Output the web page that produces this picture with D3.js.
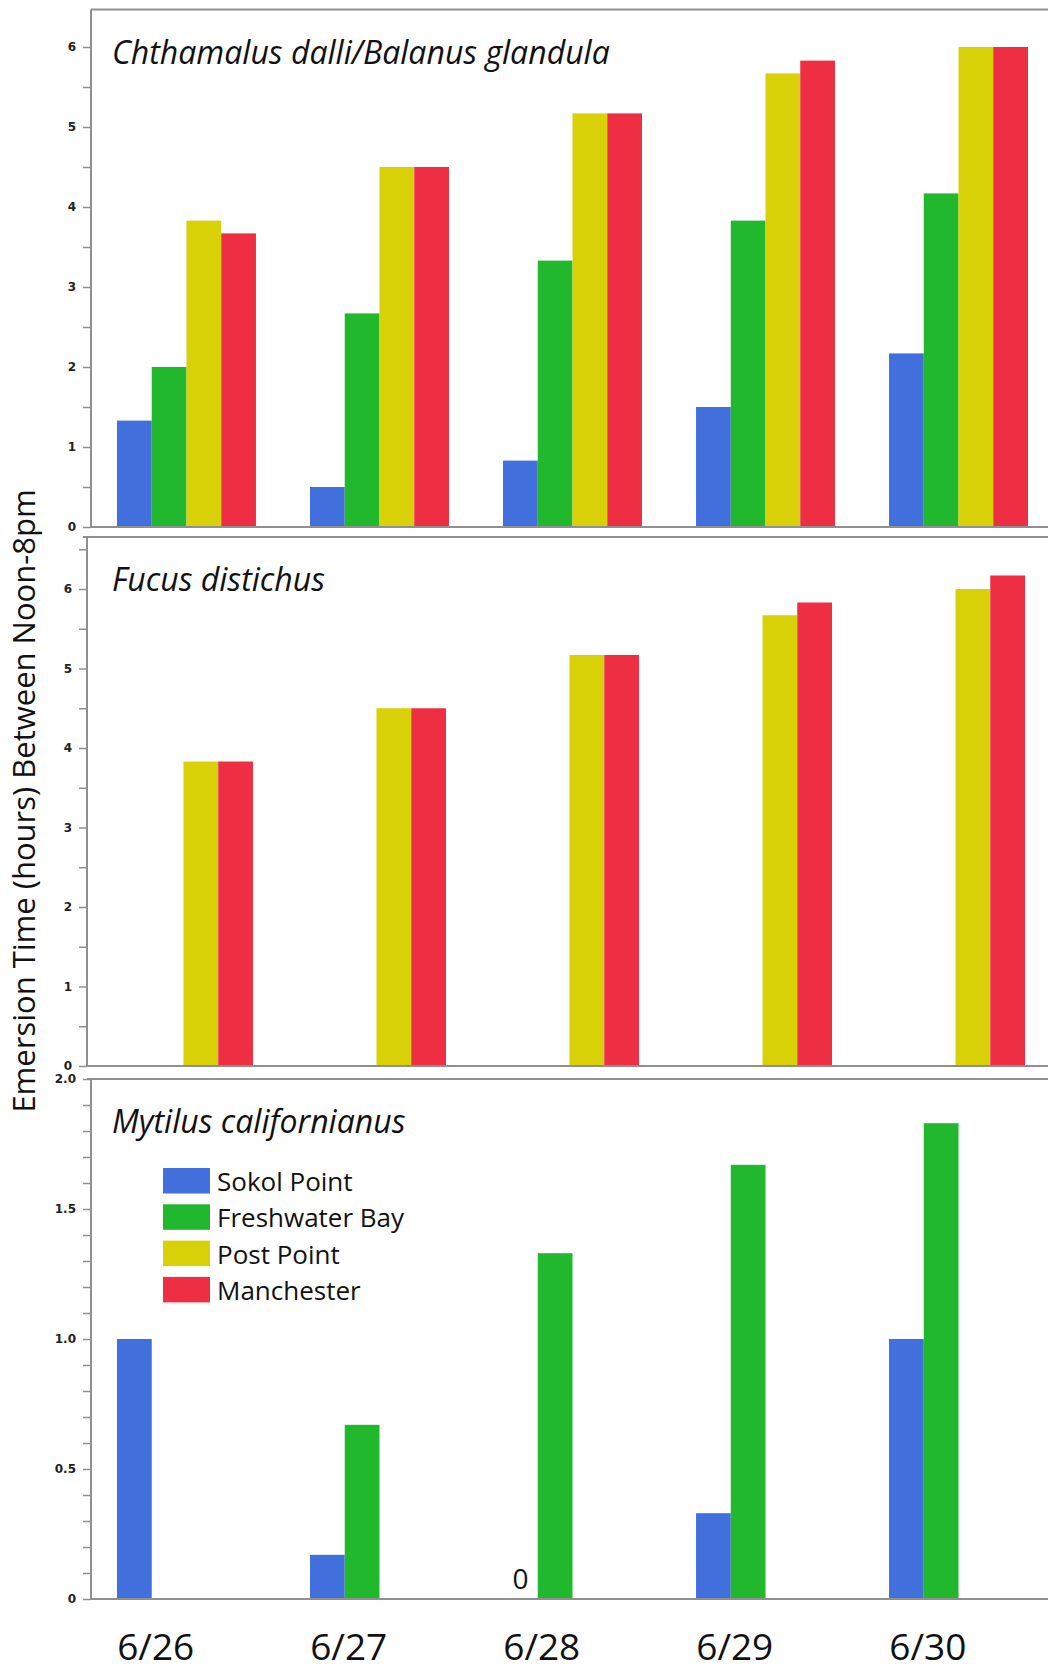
<!DOCTYPE html>
<html>
<head>
<meta charset="utf-8">
<script src="https://cdn.jsdelivr.net/npm/d3@7"></script>
<style>
  body { margin: 0; background: #fff; }
  svg { display: block; }
</style>
</head>
<body>
<div id="chart"></div>
<script>
// data (hours of emersion between noon and 8pm)
const dates = ["6/26", "6/27", "6/28", "6/29", "6/30"];
const sites = ["Sokol Point", "Freshwater Bay", "Post Point", "Manchester"];
const siteColors = ["#416fdb", "#21b82d", "#d9d107", "#ee2f43"];

// Chthamalus dalli / Balanus glandula
const barnSokol = [1.33, 0.5, 0.83, 1.5, 2.17];
const barnFresh = [2.0, 2.67, 3.33, 3.83, 4.17];
const barnPost = [3.83, 4.5, 5.17, 5.67, 6.0];
const barnManch = [3.67, 4.5, 5.17, 5.83, 6.0];

// Fucus distichus (only Post Point and Manchester)
const fucusPost = [3.83, 4.5, 5.17, 5.67, 6.0];
const fucusManch = [3.83, 4.5, 5.17, 5.83, 6.17];

// Mytilus californianus (only Sokol Point and Freshwater Bay)
const mytSokol = [1.0, 0.17, 0, 0.33, 1.0];
const mytFresh = [0, 0.67, 1.33, 1.67, 1.83];

const W = 1048, H = 1672;
const svg = d3.select("#chart").append("svg")
    .attr("width", W)
    .attr("height", H);

const lineColor = "#8f8f8f";

// each panel: pixel frame + y domain
const panels = [
    {title: "Chthamalus dalli/Balanus glandula", left: 91, dx: 0, top: 9.5, y0px: 527, yMaxPx: 47, yMax: 6,
        ticks: d3.range(0, 6.01, 0.5), series: [barnSokol, barnFresh, barnPost, barnManch]},
    {title: "Fucus distichus", left: 87, dx: -3, top: 537, y0px: 1066, yMaxPx: 589, yMax: 6,
        ticks: d3.range(0, 6.51, 0.5), series: [null, null, fucusPost, fucusManch]},
    {title: "Mytilus californianus", left: 91, dx: 0, top: 1079, y0px: 1599, yMaxPx: 1079, yMax: 2,
        ticks: d3.range(0, 2.001, 0.1), series: [mytSokol, mytFresh, null, null]}
];

panels.forEach(function (p, pi) {
    const g = svg.append("g");

    const x = d3.scaleBand()
        .domain(dates)
        .range([91 + p.dx, 1054 + p.dx])
        .paddingInner(0.28)
        .paddingOuter(0.1347);
    const xs = d3.scaleBand()
        .domain(sites)
        .range([0, x.bandwidth()]);

    const y = d3.scaleLinear()
        .domain([0, p.yMax])
        .range([p.y0px, p.yMaxPx]);

    // bars
    sites.forEach(function (s, si) {
        const vals = p.series[si];
        if (!vals) return;
        g.selectAll(null)
            .data(dates.map((d, i) => ({date: d, v: vals[i]})).filter(d => d.v > 0))
            .join("rect")
            .attr("x", d => x(d.date) + xs(s))
            .attr("y", d => y(d.v))
            .attr("width", xs.bandwidth())
            .attr("height", d => y(0) - y(d.v))
            .attr("fill", siteColors[si]);
    });

    // frame: top border and baseline
    g.append("line")
        .attr("x1", p.left - (pi > 0 ? 4 : 0)).attr("x2", W)
        .attr("y1", p.top).attr("y2", p.top)
        .attr("stroke", lineColor).attr("stroke-width", 2);
    g.append("line")
        .attr("x1", p.left).attr("x2", W)
        .attr("y1", y(0)).attr("y2", y(0))
        .attr("stroke", lineColor).attr("stroke-width", 2);

    // y axis
    const fmt = p.yMax === 2
        ? (d => Math.abs(d * 2 - Math.round(d * 2)) < 1e-6 ? (d === 0 ? "0" : d.toFixed(1)) : "")
        : (d => Math.abs(d - Math.round(d)) < 1e-6 ? d3.format("d")(d) : "");
    const axis = g.append("g")
        .attr("transform", `translate(${p.left},0)`)
        .call(d3.axisLeft(y).tickValues(p.ticks).tickFormat(fmt).tickSize(8).tickSizeOuter(0).tickPadding(7));
    axis.select(".domain").remove();
    axis.selectAll(".tick line").attr("stroke", lineColor).attr("stroke-width", 1.5);
    axis.selectAll(".tick text")
        .attr("fill", "#222")
        .style("font-family", "DejaVu Sans")
        .style("font-weight", "bold")
        .style("font-size", "12px");
    g.append("line")
        .attr("x1", p.left).attr("x2", p.left)
        .attr("y1", p.top).attr("y2", y(0))
        .attr("stroke", lineColor).attr("stroke-width", 2);

    // panel title
    g.append("text")
        .attr("x", 112)
        .attr("y", p.top + 54)
        .style("font-family", "Open Sans")
        .style("font-style", "italic")
        .style("font-size", "32px")
        .attr("fill", "#111")
        .text(p.title);

    p.x = x; p.xs = xs; p.y = y;
});

// zero marker for Sokol Point on 6/28 in the Mytilus panel
const pm = panels[2];
svg.append("text")
    .attr("x", pm.x("6/28") + pm.xs("Sokol Point") + pm.xs.bandwidth() / 2)
    .attr("y", pm.y(0) - 10)
    .attr("text-anchor", "middle")
    .style("font-family", "Open Sans")
    .style("font-size", "28px")
    .attr("fill", "#111")
    .text("0");

// x labels under the last panel
svg.append("g")
    .selectAll("text")
    .data(dates)
    .join("text")
    .attr("x", d => pm.x(d) + pm.xs.bandwidth() + 4)
    .attr("y", 1660)
    .attr("text-anchor", "middle")
    .style("font-family", "Open Sans")
    .style("font-size", "37px")
    .attr("fill", "#111")
    .text(d => d);

// legend
const legend = svg.append("g").attr("transform", "translate(163,1168)");
sites.forEach(function (s, i) {
    legend.append("rect")
        .attr("x", 0).attr("y", i * 36.3)
        .attr("width", 47).attr("height", 25.5)
        .attr("fill", siteColors[i]);
    legend.append("text")
        .attr("x", 54).attr("y", i * 36.3 + 23)
        .style("font-family", "Open Sans")
        .style("font-size", "26px")
        .attr("fill", "#111")
        .text(s);
});

// y axis title
svg.append("text")
    .attr("transform", "translate(23,801) rotate(-90)")
    .attr("text-anchor", "middle")
    .attr("dominant-baseline", "central")
    .style("font-family", "Open Sans")
    .style("font-size", "31px")
    .attr("fill", "#111")
    .text("Emersion Time (hours) Between Noon-8pm");
</script>
</body>
</html>
